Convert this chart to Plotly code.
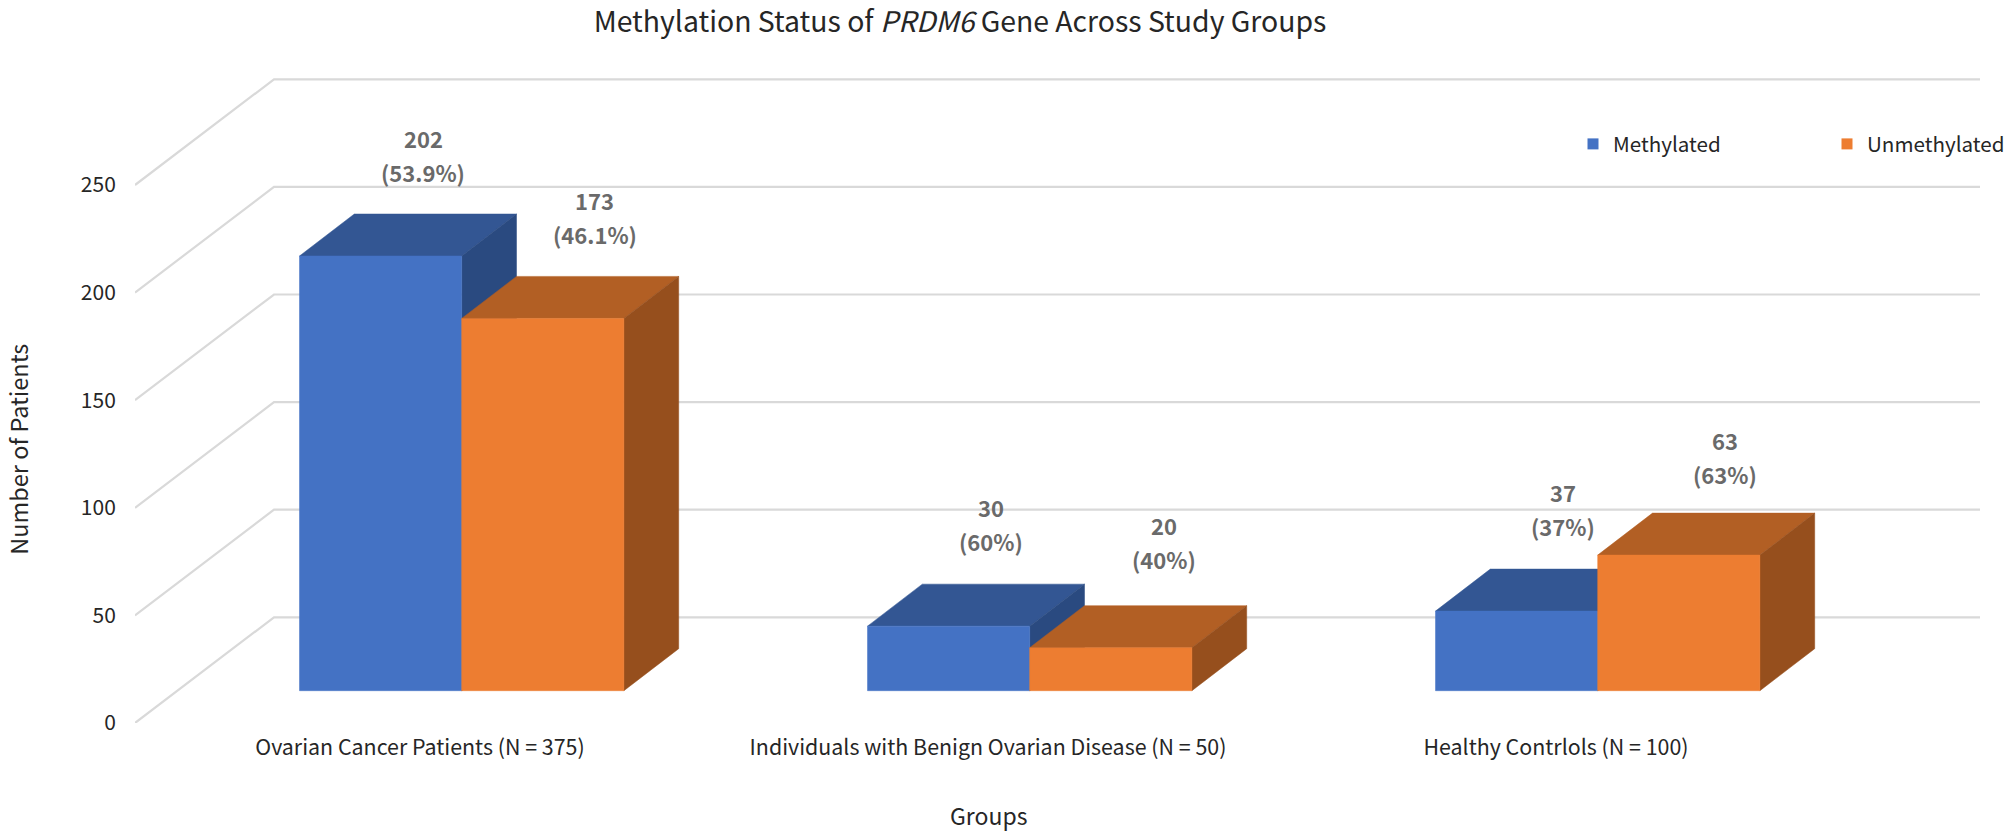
import plotly.graph_objects as go

groups = ["Ovarian Cancer Patients (N = 375)",
          "Individuals with Benign Ovarian Disease (N = 50)",
          "Healthy Contrlols (N = 100)"]
methylated = [202, 30, 37]
unmethylated = [173, 20, 63]
methylated_pct = ["53.9%", "60%", "37%"]
unmethylated_pct = ["46.1%", "40%", "63%"]
y_ticks = [0, 50, 100, 150, 200, 250]

# axis scale of the picture, pixels per one group / one patient
PX_X = 568
PX_Y = 2.152

# fake 3d geometry, in axis units
FLOOR = 32.3 / PX_Y
BAR_LEFT = -120.5 / PX_X
BAR_W = 162.2 / PX_X
BAR_DX = 54.8 / PX_X
BAR_DY = 42 / PX_Y
WALL_DX = 139 / PX_X
WALL_DY = 105.7 / PX_Y
X_MIN = -285 / PX_X
X_MAX = 1560 / PX_X

FONT = "Noto Sans CJK SC"
GRID = "#D9D9D9"

# the label blocks were placed by hand in the original, offsets in px
blue_shift = [(123.5, 101.5), (123.7, 101.8), (127.5, 102)]
orange_shift = [(133, 101), (134.4, 105.7), (127, 98)]


def add_face(fig, xs, ys, color):
    fig.add_trace(go.Scatter(x=xs + xs[:1], y=ys + ys[:1], mode="lines",
                             fill="toself", fillcolor=color,
                             line=dict(color=color, width=0.5),
                             hoverinfo="skip", showlegend=False,
                             cliponaxis=False))


def add_bar(fig, left, value, front, top, side):
    right = left + BAR_W
    low = FLOOR
    high = FLOOR + value
    add_face(fig, [left, left + BAR_DX, right + BAR_DX, right],
             [high, high + BAR_DY, high + BAR_DY, high], top)
    add_face(fig, [right, right + BAR_DX, right + BAR_DX, right],
             [high, high + BAR_DY, low + BAR_DY, low], side)
    add_face(fig, [left, right, right, left], [low, low, high, high], front)


def add_label(fig, left, value, pct, shift):
    base = dict(x=left, y=FLOOR + value, xref="x", yref="y", showarrow=False,
                xshift=shift[0],
                font=dict(family=FONT, size=22, color="#6A6A6A", weight=700))
    fig.add_annotation(text=str(value), yshift=shift[1] + 17, **base)
    fig.add_annotation(text=f"({pct})", yshift=shift[1] - 17, **base)


def create_figure():
    fig = go.Figure()

    # walls: front edge, diagonal to the back, then along the back
    for tick in y_ticks:
        fig.add_trace(go.Scatter(
            x=[X_MIN, X_MIN + WALL_DX, X_MAX],
            y=[tick, tick + WALL_DY, tick + WALL_DY],
            mode="lines", line=dict(color=GRID, width=2.2),
            hoverinfo="skip", showlegend=False, cliponaxis=False))

    for i in range(len(groups)):
        left = i + BAR_LEFT
        add_bar(fig, left, methylated[i], "#4472C4", "#335693", "#2A4A80")
        add_bar(fig, left + BAR_W, unmethylated[i], "#ED7D31", "#B25F24", "#964F1D")
        add_label(fig, left, methylated[i], methylated_pct[i], blue_shift[i])
        add_label(fig, left + BAR_W, unmethylated[i], unmethylated_pct[i], orange_shift[i])

    # legend keys only
    fig.add_trace(go.Scatter(x=[None], y=[None], mode="markers", name="Methylated",
                             legendwidth=209,
                             marker=dict(symbol="square", size=11, color="#4472C4")))
    fig.add_trace(go.Scatter(x=[None], y=[None], mode="markers", name="Unmethylated",
                             legendwidth=146,
                             marker=dict(symbol="square", size=11, color="#ED7D31")))

    fig.add_annotation(text="Groups", x=1, y=0, xref="x", yref="y", yshift=-92,
                       showarrow=False, font=dict(family=FONT, size=23, color="#262626"))
    fig.add_annotation(text="Number of Patients", x=-117 / 1845, xanchor="center",
                       y=127, xref="paper", yref="y", textangle=-90, showarrow=False,
                       font=dict(family=FONT, size=23.5, color="#262626"))

    fig.update_xaxes(range=[X_MIN, X_MAX], tickvals=list(range(len(groups))),
                     ticktext=groups, showgrid=False, zeroline=False, showline=False,
                     ticks="outside", ticklen=5, tickcolor="rgba(0,0,0,0)",
                     tickfont=dict(family=FONT, size=21.4, color="#262626"))
    fig.update_yaxes(range=[0, 673 / PX_Y], tickvals=y_ticks, showgrid=False,
                     zeroline=False, showline=False, ticks="outside", ticklen=14,
                     tickcolor="rgba(0,0,0,0)",
                     tickfont=dict(family=FONT, size=21, color="#262626"))
    fig.update_layout(
        width=2013, height=836,
        margin=dict(l=135, r=33, t=50, b=113, autoexpand=False),
        plot_bgcolor="white", paper_bgcolor="white",
        title=dict(text="Methylation Status of <i>PRDM6</i> Gene Across Study Groups",
                   x=960 / 2013, xanchor="center", xref="container",
                   y=1 - 22 / 836, yanchor="middle", yref="container",
                   font=dict(family=FONT, size=28.4, color="#262626")),
        legend=dict(orientation="h", xref="paper", yref="paper",
                    x=1438 / 1845, xanchor="left", y=579 / 673, yanchor="middle",
                    font=dict(family=FONT, size=20.6, color="#262626")),
    )
    return fig


if __name__ == '__main__':
    fig = create_figure()
    # fixed size figure, so drop the default page margin
    fig.write_html("out.html", config=dict(displayModeBar=False),
                   post_script="document.body.style.margin = '0';")
